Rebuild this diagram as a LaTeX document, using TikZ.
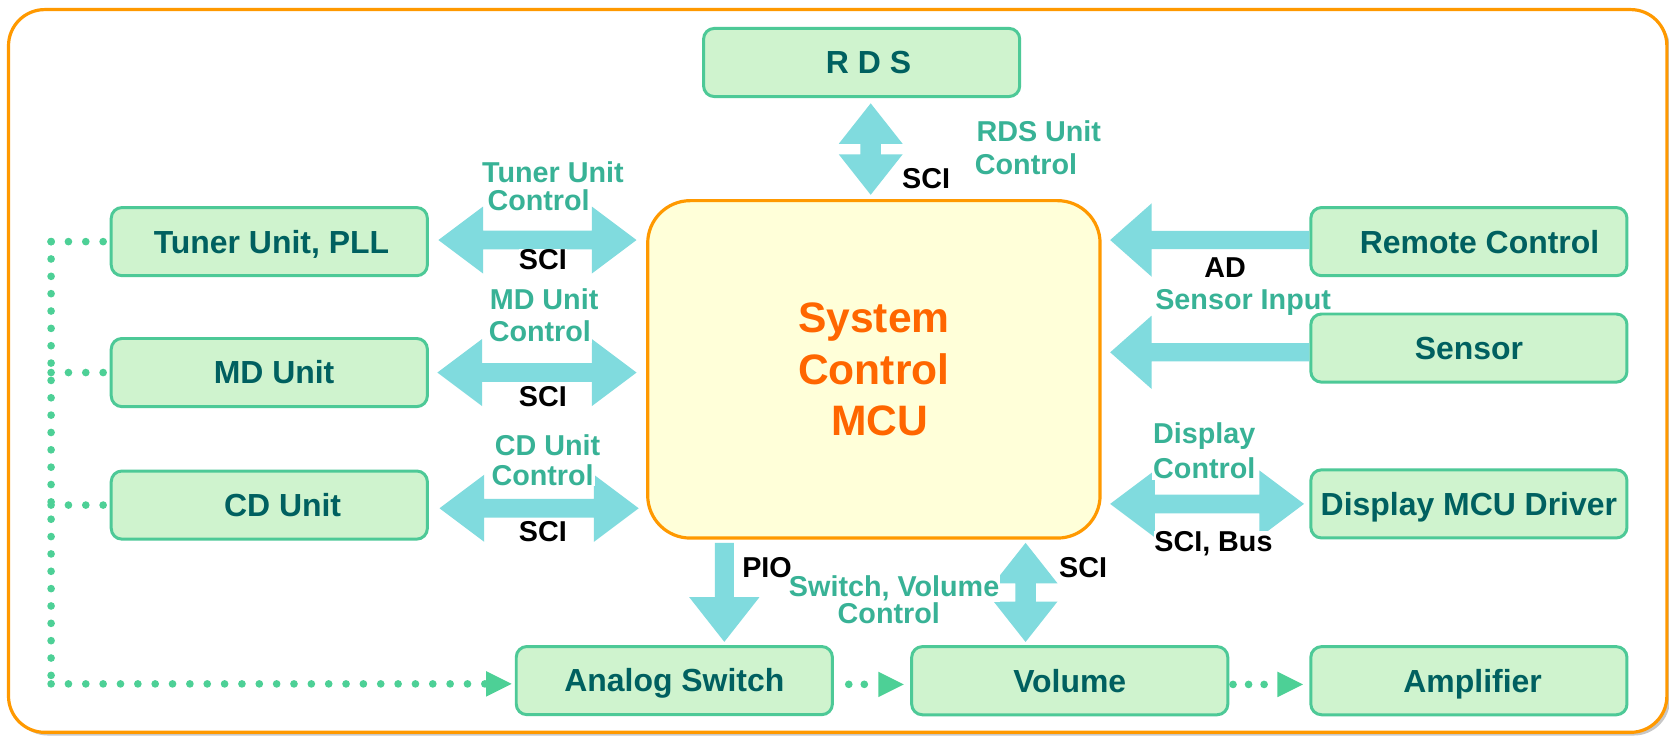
\documentclass[tikz,border=0pt]{standalone}
\usepackage{fontspec}
\setmainfont{Liberation Sans}
\usetikzlibrary{calc}
\definecolor{frameorange}{RGB}{255,153,0}
\definecolor{boxfill}{RGB}{207,243,206}
\definecolor{boxborder}{RGB}{77,201,151}
\definecolor{boxtext}{RGB}{0,96,96}
\definecolor{labelteal}{RGB}{56,178,150}
\definecolor{arrowcyan}{RGB}{128,219,222}
\definecolor{mcufill}{RGB}{255,255,217}
\definecolor{mcutext}{RGB}{255,102,0}
\definecolor{dotgreen}{RGB}{77,208,150}
% horizontal double block arrow: #1 left tip, #2 right tip
\newcommand{\HDoubleArrow}[2]{\fill[blockarrow] let \p1=(#1), \p2=(#2) in
  (\x1,\y1) -- (\x1+21pt,\y1+15.75pt) -- (\x1+21pt,\y1+4.4pt) -- (\x2-21pt,\y1+4.4pt)
  -- (\x2-21pt,\y1+15.75pt) -- (\x2,\y1) -- (\x2-21pt,\y1-15.75pt) -- (\x2-21pt,\y1-4.4pt)
  -- (\x1+21pt,\y1-4.4pt) -- (\x1+21pt,\y1-15.75pt) -- cycle;}
% single block arrow pointing left: #1 tip, #2 tail
\newcommand{\HLeftArrow}[2]{\fill[blockarrow] let \p1=(#1), \p2=(#2) in
  (\x1,\y1) -- (\x1+19.5pt,\y1+17.25pt) -- (\x1+19.5pt,\y1+4.3pt) -- (\x2,\y1+4.3pt)
  -- (\x2,\y1-4.3pt) -- (\x1+19.5pt,\y1-4.3pt) -- (\x1+19.5pt,\y1-17.25pt) -- cycle;}
% vertical double block arrow: #1 top tip, #2 bottom tip
\newcommand{\VDoubleArrow}[2]{\fill[blockarrow] let \p1=(#1), \p2=(#2) in
  (\x1,\y1) -- (\x1+15pt,\y1-19pt) -- (\x1+4.8pt,\y1-19pt) -- (\x1+4.8pt,\y2+19pt)
  -- (\x1+15pt,\y2+19pt) -- (\x1,\y2) -- (\x1-15pt,\y2+19pt) -- (\x1-4.8pt,\y2+19pt)
  -- (\x1-4.8pt,\y1-19pt) -- (\x1-15pt,\y1-19pt) -- cycle;}
% single block arrow pointing down: #1 tail (top), #2 tip
\newcommand{\VDownArrow}[2]{\fill[blockarrow] let \p1=(#1), \p2=(#2) in
  (\x1-4.5pt,\y1) -- (\x1+4.5pt,\y1) -- (\x1+4.5pt,\y2+21pt) -- (\x1+16.5pt,\y2+21pt)
  -- (\x1,\y2) -- (\x1-16.5pt,\y2+21pt) -- (\x1-4.5pt,\y2+21pt) -- cycle;}
% small triangle head for the dotted connectors: #1 tip
\newcommand{\DotTip}[1]{\fill[dotgreen] let \p1=(#1) in
  (\x1,\y1) -- (\x1-12pt,\y1+6pt) -- (\x1-12pt,\y1-6pt) -- cycle;}
\begin{document}
\begin{tikzpicture}[x=0.5pt,y=-0.5pt,
  box/.style={draw=boxborder, fill=boxfill, line width=1.4pt, rounded corners=5pt,
    minimum width=148.5pt, minimum height=32pt, inner sep=0pt,
    font=\bfseries\fontsize{15}{18}\selectfont, text=boxtext,
    text height=10.7pt, text depth=0pt},
  mcubox/.style={draw=frameorange, fill=mcufill, line width=1.5pt, rounded corners=20pt,
    minimum width=212.5pt, minimum height=158.5pt, inner sep=0pt, align=center,
    font=\bfseries\fontsize{20}{24}\selectfont, text=mcutext},
  lbl/.style={font=\bfseries\fontsize{13.5}{16}\selectfont, text=labelteal,
    fill=white, inner sep=0.5pt, anchor=base west},
  lblc/.style={lbl, anchor=base},
  blk/.style={font=\bfseries\fontsize{13.5}{16}\selectfont, text=black,
    fill=white, inner sep=0pt, anchor=base},
  blockarrow/.style={fill=arrowcyan},
  dotline/.style={draw=dotgreen, line width=3.6pt, line cap=round,
    dash pattern=on 0pt off 8.15pt},
  shortdots/.style={dotline, dash pattern=on 0pt off 7.3pt}
]
\useasboundingbox (0,0) rectangle (1568,691);
% outer frame with shadow
\fill[black!22, rounded corners=17pt] (11,12) rectangle (1569,691);
\draw[frameorange, fill=white, line width=1.5pt, rounded corners=17pt] (8,9) rectangle (1566,688);

% nodes
\node[box] (rds) at (809.5,58.7) {\hspace*{6.5pt}R D S};
\node[box] (tuner) at (253,227) {\hspace*{2pt}Tuner Unit, PLL};
\node[box] (md) at (253,350) {\hspace*{4.5pt}MD Unit};
\node[box] (cd) at (253,474.5) {\hspace*{12.5pt}CD Unit};
\node[box] (remote) at (1380,227) {\hspace*{10pt}Remote Control};
\node[box] (sensor) at (1380,327) {Sensor};
\node[box] (display) at (1380,473.4) {Display MCU Driver};
\node[box] (analog) at (633.5,639.4) {Analog Switch};
\node[box] (volume) at (1005,639.5) {Volume};
\node[box] (amp) at (1380,639.5) {\hspace*{3.5pt}Amplifier};
\node[mcubox] (mcu) at (821,347) {System\\Control\\\hspace*{5.5pt}MCU};

% connector end points
\coordinate (tA) at ($(tuner.east)+(9,-1.5)$);
\coordinate (tB) at ($(mcu.west|-tA)+(-9,0)$);
\coordinate (mA) at ($(md.east)+(8,0)$);
\coordinate (mB) at ($(mcu.west|-mA)+(-9,0)$);
\coordinate (cA) at ($(cd.east)+(10,3)$);
\coordinate (cB) at ($(mcu.west|-cA)+(-7,0)$);
\coordinate (rA) at ($(rds.south)+(8.5,5)$);
\coordinate (rB) at ($(rA|-mcu.north)+(0,-4)$);
\coordinate (reB) at ($(remote.west)+(0,-1.5)$);
\coordinate (reA) at ($(mcu.east|-reB)+(8,0)$);
\coordinate (seB) at ($(sensor.west)+(0,4)$);
\coordinate (seA) at ($(mcu.east|-seB)+(8,0)$);
\coordinate (dB) at ($(display.west)+(-5,0)$);
\coordinate (dA) at ($(mcu.east|-dB)+(8,0)$);
\coordinate (pA) at ($(analog.north|-mcu.south)+(47,3)$);
\coordinate (pB) at ($(analog.north)+(47,-3)$);
\coordinate (vA) at ($(volume.north|-mcu.south)+(-41.5,3)$);
\coordinate (vB) at ($(volume.north)+(-41.5,-3)$);

% block arrows
\HDoubleArrow{tA}{tB}
\HDoubleArrow{mA}{mB}
\HDoubleArrow{cA}{cB}
\VDoubleArrow{rA}{rB}
\HLeftArrow{reA}{reB}
\HLeftArrow{seA}{seB}
\HDoubleArrow{dA}{dB}
\VDownArrow{pA}{pB}
\VDoubleArrow{vA}{vB}

% dotted signal connectors
\coordinate (busT) at (48,227);
\coordinate (busB) at (48,642.5);
\coordinate (aTail) at ($(analog.west|-busB)+(-28,0)$);
\coordinate (aTip) at ($(analog.west|-busB)+(-3,0)$);
\draw[dotline] (busT) -- (tuner.west);
\draw[dotline] (busT) -- (busB);
\draw[dotline] (md.west-|busT) -- (md.west);
\draw[dotline] (cd.west-|busT) -- (cd.west);
\draw[dotline] (busB) -- (aTail);
\DotTip{aTip}
\coordinate (avS) at ($(analog.east)+(14,3.5)$);
\coordinate (avE) at ($(analog.east)+(31,3.5)$);
\coordinate (avTip) at ($(volume.west)+(-6,3.5)$);
\draw[shortdots] (avS) -- (avE);
\DotTip{avTip}
\coordinate (vaS) at ($(volume.east)+(3.5,3.5)$);
\coordinate (vaE) at ($(volume.east)+(33,3.5)$);
\coordinate (vaTip) at ($(amp.west)+(-6,3.5)$);
\draw[shortdots] (vaS) -- (vaE);
\DotTip{vaTip}

% labels
\node[lbl] (tl1) at (451.6,171.6) {Tuner Unit};
\node[lbl] (tl2) at (456.6,197.3) {Control};
\node[lbl] (ml1) at (458.8,291.2) {MD Unit};
\node[lbl] (ml2) at (457.8,321) {Control};
\node[lbl] (cl1) at (463.5,427.5) {CD Unit};
\node[lbl] (cl2) at (460.4,455.7) {Control};
\node[lbl] (rl1) at (916,133) {RDS Unit};
\node[lbl] (rl2) at (914.5,164.4) {Control};
\node[lbl, fill=none] (sl) at (1084,290.6) {Sensor Input};
\node[lbl] (dl1) at (1082,416.5) {Display};
\node[lbl] (dl2) at (1082,449.4) {Control};
\node[lblc] (wl1) at (840,560.6) {Switch, Volume};
\node[lblc] (wl2) at (835,585.6) {Control};

\node[blk] (sciT) at (510,253) {SCI};
\node[blk] (sciM) at (510,382.1) {SCI};
\node[blk] (sciC) at (510,508.9) {SCI};
\node[blk] (sciR) at (870,177) {SCI};
\node[blk] (ad) at (1151,260.6) {AD};
\node[blk] (scib) at (1140,518) {SCI, Bus};
\node[blk] (pio) at (720.6,542.4) {PIO};
\node[blk] (sciV) at (1017.5,542.4) {SCI};
\end{tikzpicture}
\end{document}
